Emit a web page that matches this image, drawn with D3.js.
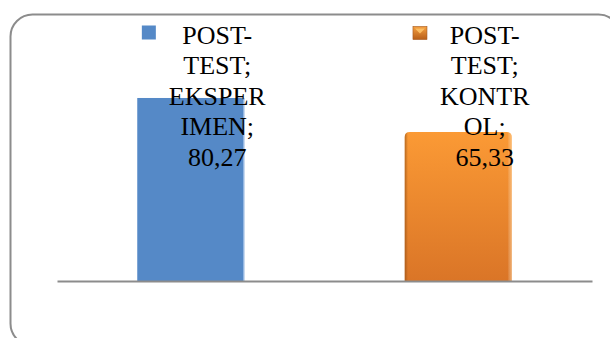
<!DOCTYPE html>
<html>
<head>
<meta charset="utf-8">
<script src="https://cdn.jsdelivr.net/npm/d3@7"></script>
<style>
  html, body { margin: 0; padding: 0; background: #fff; }
  svg { display: block; }
  .lbl { font-family: "Liberation Serif", "Times New Roman", Times, serif; }
</style>
</head>
<body>
<svg id="chart" width="610" height="338"></svg>
<script>
// Post-test means for the two groups
const categories = ["EKSPERIMEN", "KONTROL"];
const values = [80.27, 65.33];
const labelLines = [
  ["POST-", "TEST;", "EKSPER", "IMEN;", "80,27"],
  ["POST-", "TEST;", "KONTR", "OL;", "65,33"]
];

const svg = d3.select("#chart");
const defs = svg.append("defs");

// orange bar gradients
const og = defs.append("linearGradient").attr("id", "orangeV")
  .attr("x1", 0).attr("y1", 0).attr("x2", 0).attr("y2", 1);
og.append("stop").attr("offset", "0%").attr("stop-color", "#FB9A35");
og.append("stop").attr("offset", "100%").attr("stop-color", "#DA7527");

const ogH = defs.append("linearGradient").attr("id", "orangeH")
  .attr("x1", 0).attr("y1", 0).attr("x2", 1).attr("y2", 0);
ogH.append("stop").attr("offset", "0%").attr("stop-color", "#8a4a14").attr("stop-opacity", 0.6);
ogH.append("stop").attr("offset", "3%").attr("stop-color", "#8a4a14").attr("stop-opacity", 0);
ogH.append("stop").attr("offset", "96%").attr("stop-color", "#ffffff").attr("stop-opacity", 0);
ogH.append("stop").attr("offset", "100%").attr("stop-color", "#ffe0b0").attr("stop-opacity", 0.5);

const ogKey = defs.append("linearGradient").attr("id", "orangeKey")
  .attr("x1", 0).attr("y1", 0).attr("x2", 0).attr("y2", 1);
ogKey.append("stop").attr("offset", "0%").attr("stop-color", "#F5A040");
ogKey.append("stop").attr("offset", "100%").attr("stop-color", "#B85E18");

// chart frame
svg.append("rect")
  .attr("x", 10.5).attr("y", 14.5)
  .attr("width", 610).attr("height", 331)
  .attr("rx", 22).attr("ry", 22)
  .attr("fill", "none")
  .attr("stroke", "#8c8c8c")
  .attr("stroke-width", 2);

const plotLeft = 57, plotRight = 592, baseY = 281;

const x = d3.scaleBand()
  .domain(categories)
  .range([plotLeft, plotRight])
  .paddingInner(0.6)
  .paddingOuter(0.3);

const y = d3.scaleLinear()
  .domain([0, 100])
  .range([baseY, baseY - 228]);

// blue bar
const i0 = 0;
svg.append("rect")
  .attr("x", x(categories[i0]))
  .attr("y", y(values[i0]))
  .attr("width", x.bandwidth())
  .attr("height", y(0) - y(values[i0]))
  .attr("fill", "#5589C7");
svg.append("line")
  .attr("x1", x(categories[i0]) + x.bandwidth() - 0.5)
  .attr("x2", x(categories[i0]) + x.bandwidth() - 0.5)
  .attr("y1", y(values[i0])).attr("y2", y(0))
  .attr("stroke", "#a9c6ea").attr("stroke-width", 1);

// orange bar with rounded top corners
function topRounded(x0, y0, w, h, r) {
  return `M${x0},${y0 + h} L${x0},${y0 + r} Q${x0},${y0} ${x0 + r},${y0} ` +
    `L${x0 + w - r},${y0} Q${x0 + w},${y0} ${x0 + w},${y0 + r} L${x0 + w},${y0 + h} Z`;
}
const i1 = 1;
const ob = { x: x(categories[i1]), y: y(values[i1]), w: x.bandwidth(), h: y(0) - y(values[i1]) };
svg.append("path").attr("d", topRounded(ob.x, ob.y, ob.w, ob.h, 5)).attr("fill", "url(#orangeV)");
svg.append("path").attr("d", topRounded(ob.x, ob.y, ob.w, ob.h, 5)).attr("fill", "url(#orangeH)");

// baseline axis
const axis = d3.axisBottom(x).tickSize(0).tickSizeOuter(0).tickFormat("");
svg.append("g")
  .attr("transform", `translate(0,${baseY})`)
  .call(axis)
  .call(g => g.select(".domain").attr("stroke", "#8c8c8c").attr("stroke-width", 2));

// data labels with legend keys
const fontSize = 26, lineH = 30.6, firstBase = 43.5, offset = 26.5;
categories.forEach((c, i) => {
  const cx = x(c) + x.bandwidth() / 2 + offset;
  const g = svg.append("g");
  const t = g.append("text")
    .attr("class", "lbl")
    .attr("font-size", fontSize)
    .attr("fill", "#000")
    .attr("text-anchor", "middle");
  labelLines[i].forEach((s, k) => {
    t.append("tspan").attr("x", cx).attr("y", firstBase + k * lineH).text(s);
  });
  let maxW = 0;
  t.selectAll("tspan").each(function () { maxW = Math.max(maxW, this.getComputedTextLength()); });
  const kx = cx - maxW / 2 - 13 - 14;
  const ky = 25.5 + i;
  if (i === 0) {
    g.append("rect").attr("x", kx).attr("y", ky).attr("width", 14).attr("height", 14).attr("fill", "#5589C7");
  } else {
    g.append("rect").attr("x", kx).attr("y", ky).attr("width", 14).attr("height", 13)
      .attr("fill", "url(#orangeKey)").attr("stroke", "#a4561a").attr("stroke-width", 0.6);
    g.append("path")
      .attr("d", `M${kx + 2},${ky + 2} L${kx + 12},${ky + 2} L${kx + 7},${ky + 7} Z`)
      .attr("fill", "#FFC56B").attr("opacity", 0.85);
  }
});
</script>
</body>
</html>
